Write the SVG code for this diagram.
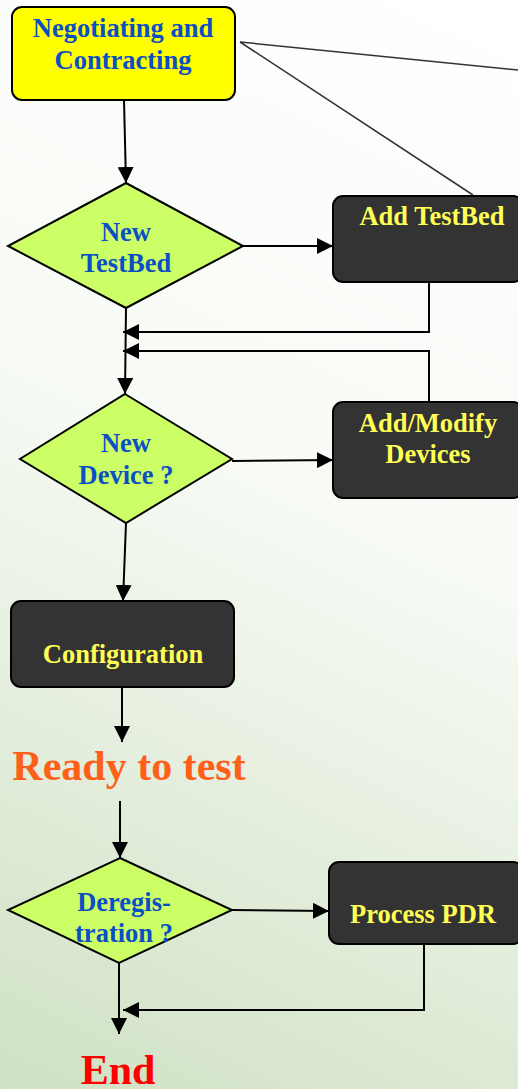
<svg xmlns="http://www.w3.org/2000/svg" width="518" height="1089" viewBox="0 0 518 1089">
<defs>
<linearGradient id="bg" gradientUnits="userSpaceOnUse" x1="518" y1="0" x2="0" y2="1089">
<stop offset="0" stop-color="#ffffff"/>
<stop offset="0.45" stop-color="#f7faf5"/>
<stop offset="1" stop-color="#cfe1c3"/>
</linearGradient>
<marker id="ah" viewBox="0 0 16 16" refX="16" refY="8" markerWidth="16" markerHeight="16" markerUnits="userSpaceOnUse" orient="auto">
<path d="M0,0 L16,8 L0,16 Z" fill="#000"/>
</marker>
<style>
.dia{fill:#ccff66;stroke:#000;stroke-width:2}
.box{fill:#333333;stroke:#000;stroke-width:2}
.yb{fill:#ffff00;stroke:#000;stroke-width:2}
.bt{font-family:"Liberation Serif","Times New Roman",serif;font-weight:bold;font-size:26.5px;fill:#0b4fc4;text-anchor:middle}
.yt{font-family:"Liberation Serif","Times New Roman",serif;font-weight:bold;font-size:26.5px;fill:#ffff55;text-anchor:middle}
.big{font-family:"Liberation Serif","Times New Roman",serif;font-weight:bold;font-size:42px;text-anchor:middle}
.cm{fill:none;stroke:#000;stroke-width:2;marker-end:url(#ah)}
.thin{fill:none;stroke:#333;stroke-width:1.5}
</style>
</defs>
<rect x="0" y="0" width="518" height="1089" fill="url(#bg)"/>

<g id="connectors">
<line class="thin" x1="240" y1="42" x2="518" y2="70"/>
<line class="thin" x1="240" y1="42" x2="473" y2="195"/>
<line class="cm" x1="124" y1="100" x2="126" y2="183"/>
<line class="cm" x1="243" y1="246" x2="333" y2="246"/>
<polyline class="cm" points="429,282 429,332 123,332"/>
<polyline class="cm" points="429,402 429,351 123,351"/>
<line class="cm" x1="126" y1="308" x2="125" y2="394"/>
<line class="cm" x1="232" y1="461" x2="333" y2="460"/>
<line class="cm" x1="126" y1="523" x2="123" y2="601"/>
<line class="cm" x1="122" y1="687" x2="122" y2="742"/>
<line class="cm" x1="120" y1="801" x2="120" y2="858"/>
<line class="cm" x1="232" y1="910" x2="329" y2="911"/>
<polyline class="cm" points="424,944 424,1010 123,1010"/>
<line class="cm" x1="119" y1="963" x2="119" y2="1034"/>
</g>

<g id="n-negotiating">
<rect class="yb" x="12" y="7" width="223" height="93" rx="10"/>
<text class="bt" x="123" y="37">Negotiating and</text>
<text class="bt" x="123" y="69">Contracting</text>
</g>

<g id="n-newtestbed">
<polygon class="dia" points="126,183 243,246 126,308 8,246"/>
<text class="bt" x="126" y="241">New</text>
<text class="bt" x="126" y="272">TestBed</text>
</g>

<g id="n-addtestbed">
<rect class="box" x="333" y="196" width="190" height="86" rx="10"/>
<text class="yt" x="432" y="225">Add TestBed</text>
</g>

<g id="n-newdevice">
<polygon class="dia" points="125,394 232,459 126,523 20,459"/>
<text class="bt" x="126" y="452">New</text>
<text class="bt" x="126" y="484">Device ?</text>
</g>

<g id="n-addmodify">
<rect class="box" x="333" y="402" width="190" height="96" rx="10"/>
<text class="yt" x="428" y="432">Add/Modify</text>
<text class="yt" x="428" y="463">Devices</text>
</g>

<g id="n-configuration">
<rect class="box" x="11" y="601" width="223" height="86" rx="10"/>
<text class="yt" x="123" y="663">Configuration</text>
</g>

<g id="n-ready">
<text class="big" x="129" y="780" fill="#ff6019">Ready to test</text>
</g>

<g id="n-dereg">
<polygon class="dia" points="120,858 232,910 119,963 8,910"/>
<text class="bt" x="124" y="911">Deregis-</text>
<text class="bt" x="124" y="942">tration ?</text>
</g>

<g id="n-processpdr">
<rect class="box" x="329" y="862" width="194" height="82" rx="10"/>
<text class="yt" x="423" y="923">Process PDR</text>
</g>

<g id="n-end">
<text class="big" x="118" y="1084" fill="#ff0000">End</text>
</g>
</svg>
